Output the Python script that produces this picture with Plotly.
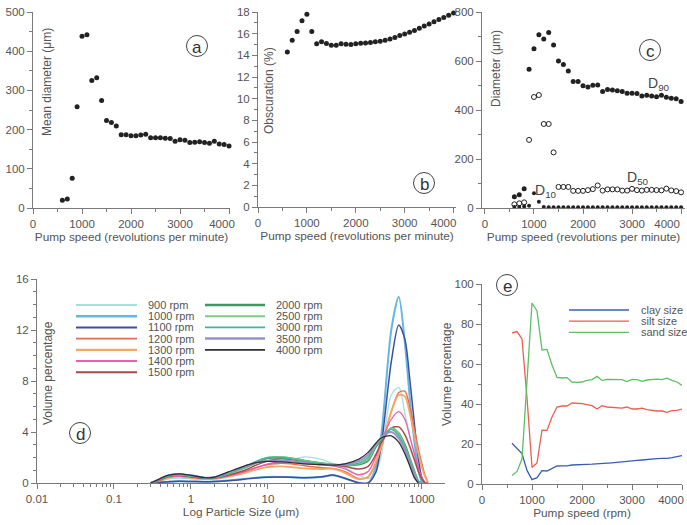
import plotly.graph_objects as go

W, H = 687, 525

# ---------------- data ----------------
rpm = [600, 700, 800, 900, 1000, 1100, 1200, 1300, 1400, 1500, 1600, 1700, 1800,
       1900, 2000, 2100, 2200, 2300, 2400, 2500, 2600, 2700, 2800, 2900, 3000,
       3100, 3200, 3300, 3400, 3500, 3600, 3700, 3800, 3900, 4000]

mean_diameter = [20, 23, 76, 258, 438, 442, 325, 332, 274, 223, 218, 209, 187,
                 187, 184, 184, 186, 188, 179, 179, 179, 178, 177, 170, 174,
                 173, 167, 168, 169, 167, 165, 170, 163, 162, 158]

obscuration = [14.3, 15.4, 16.2, 17.2, 17.8, 16.2, 15.06, 15.25, 15.1, 14.94,
               14.94, 15.06, 15.03, 15.0, 15.06, 15.12, 15.15, 15.18, 15.25,
               15.3, 15.4, 15.5, 15.64, 15.83, 15.98, 16.13, 16.3, 16.5, 16.7,
               16.9, 17.1, 17.3, 17.5, 17.7, 17.9]

d90 = [46, 54, 79, 566, 650, 707, 690, 716, 665, 600, 586, 559, 516, 516, 499,
       494, 501, 502, 475, 484, 482, 479, 475, 468, 468, 467, 457, 460, 457,
       454, 460, 452, 448, 446, 435]
d50 = [15, 19, 23, 278, 453, 461, 343, 343, 227, 86, 86, 86, 70, 70, 70, 73, 77,
       92, 71, 76, 76, 76, 71, 71, 78, 73, 71, 74, 74, 73, 72, 79, 72, 69, 64]
d10 = [4, 4, 6, 9, 60, 25, 4, 3, 3, 3, 3, 3, 3, 3, 3, 3, 3, 3, 3, 3, 3, 3, 3, 3,
       3, 3, 3, 3, 3, 3, 3, 3, 3, 3, 3]

size_um = [0.3, 0.4, 0.5, 0.7, 1, 1.5, 2, 3, 5, 7, 10, 15, 20, 30, 50, 70, 100,
           150, 200, 250, 300, 400, 500, 600, 700, 800, 900, 1000, 1100, 1200]

vol_900 = [0, 0.15, 0.3, 0.38, 0.32, 0.28, 0.3, 0.45, 0.75, 1.05, 1.3, 1.55, 1.8,
           2.05, 1.85, 1.5, 1.2, 0.6, 0.35, 0.8, 2.3, 6.9, 7.5, 5.5, 3.6, 2.1,
           1.0, 0.3, 0, 0]
vol_1000 = [0, 0.05, 0.1, 0.13, 0.12, 0.1, 0.12, 0.2, 0.33, 0.42, 0.48, 0.48,
            0.45, 0.42, 0.48, 0.6, 0.35, 0.02, 0, 1.2, 4.0, 12.0, 14.6, 11.0,
            6.5, 3.2, 1.0, 0.1, 0, 0]
vol_1100 = [0, 0.05, 0.1, 0.13, 0.12, 0.1, 0.12, 0.18, 0.3, 0.4, 0.45, 0.47,
            0.45, 0.42, 0.5, 0.62, 0.38, 0.02, 0, 0.8, 3.2, 9.5, 12.4, 11.3, 8.0,
            4.6, 1.9, 0.4, 0, 0]
vol_1200 = [0, 0.22, 0.42, 0.52, 0.42, 0.33, 0.35, 0.55, 0.9, 1.2, 1.45, 1.55,
            1.5, 1.35, 1.2, 1.15, 0.9, 0.35, 0.45, 1.5, 2.9, 5.6, 7.1, 7.2, 5.9,
            4.2, 2.7, 1.5, 0.6, 0.05]
vol_1300 = [0, 0.2, 0.4, 0.5, 0.4, 0.32, 0.33, 0.5, 0.8, 1.05, 1.25, 1.3, 1.25,
            1.15, 1.1, 1.1, 0.8, 0.3, 0.5, 1.6, 3.0, 5.6, 6.9, 6.8, 5.4, 3.7,
            2.3, 1.2, 0.5, 0]
vol_1400 = [0, 0.25, 0.45, 0.55, 0.45, 0.35, 0.37, 0.55, 0.9, 1.2, 1.5, 1.7, 1.7,
            1.6, 1.45, 1.35, 1.1, 0.65, 0.9, 2.0, 3.3, 5.0, 5.6, 5.0, 3.6, 2.3,
            1.2, 0.45, 0.05, 0]
vol_1500 = [0, 0.25, 0.5, 0.6, 0.5, 0.38, 0.4, 0.6, 1.0, 1.4, 1.75, 1.9, 1.85,
            1.7, 1.5, 1.4, 1.3, 1.1, 1.3, 2.2, 3.2, 4.3, 4.4, 3.8, 2.8, 1.8, 0.9,
            0.3, 0, 0]
vol_2000 = [0, 0.3, 0.55, 0.65, 0.55, 0.4, 0.42, 0.7, 1.2, 1.6, 1.95, 2.0, 1.95,
            1.75, 1.55, 1.45, 1.4, 1.45, 1.75, 2.8, 3.4, 4.3, 3.9, 3.0, 1.9, 0.9,
            0.15, 0, 0, 0]
vol_2500 = [0, 0.3, 0.55, 0.65, 0.55, 0.4, 0.42, 0.7, 1.2, 1.65, 2.0, 2.05,
            1.95, 1.75, 1.55, 1.45, 1.4, 1.5, 1.85, 2.9, 3.5, 4.3, 3.9, 2.9, 1.8,
            0.85, 0.12, 0, 0, 0]
vol_3000 = [0, 0.3, 0.55, 0.65, 0.55, 0.4, 0.42, 0.72, 1.25, 1.7, 2.0, 2.0, 1.9,
            1.7, 1.5, 1.42, 1.4, 1.55, 2.0, 3.0, 3.6, 4.2, 3.7, 2.8, 1.7, 0.75,
            0.1, 0, 0, 0]
vol_3500 = [0, 0.35, 0.6, 0.7, 0.6, 0.42, 0.45, 0.8, 1.3, 1.6, 1.75, 1.75, 1.7,
            1.55, 1.45, 1.4, 1.45, 1.7, 2.2, 3.0, 3.6, 4.0, 3.5, 2.6, 1.5, 0.6,
            0.05, 0, 0, 0]
vol_4000 = [0, 0.35, 0.6, 0.72, 0.6, 0.42, 0.45, 0.85, 1.35, 1.6, 1.7, 1.65, 1.6,
            1.5, 1.45, 1.4, 1.5, 1.85, 2.4, 3.1, 3.55, 3.7, 3.2, 2.3, 1.3, 0.4,
            0, 0, 0, 0]

curve_names = ["900 rpm", "1000 rpm", "1100 rpm", "1200 rpm", "1300 rpm",
               "1400 rpm", "1500 rpm", "2000 rpm", "2500 rpm", "3000 rpm",
               "3500 rpm", "4000 rpm"]
curve_values = [vol_900, vol_1000, vol_1100, vol_1200, vol_1300, vol_1400,
                vol_1500, vol_2000, vol_2500, vol_3000, vol_3500, vol_4000]

clay = [20.4, 17.7, 15.2, 6.8, 2.2, 3.2, 6.7, 6.5, 7.7, 9.0, 9.1, 9.1, 9.5, 9.7,
        9.7, 9.8, 9.9, 10.0, 10.3, 10.5, 10.6, 10.8, 11.1, 11.5, 11.7, 11.8,
        12.0, 12.3, 12.5, 12.7, 12.8, 12.8, 13.2, 13.6, 14.2]
silt = [75.5, 76.2, 72.5, 43, 8.3, 10.5, 26.9, 26.8, 33.5, 38.5, 39, 39, 40.5,
        40.5, 40.2, 39.7, 39.2, 37.5, 39.2, 38.5, 38.3, 38, 37.9, 38.5, 37.5,
        37.5, 37.9, 37.2, 36.7, 36.5, 36.5, 35.8, 36.7, 36.8, 37.4]
sand = [4.3, 6.3, 12.5, 50, 90.5, 86.5, 67, 67.3, 59.5, 53.3, 53, 53.2, 51,
        50.8, 51, 51.8, 52.2, 53.8, 51.8, 52.3, 52.3, 52.3, 52.2, 51.2, 52.3,
        52.2, 51.3, 52, 52.3, 52.4, 52.2, 52.9, 51.8, 51, 49.3]
fraction_names = ["clay size", "silt size", "sand size"]

speed_ticks = [0, 1000, 2000, 3000, 4000]
speed_tick_text = ["0", "1000", "2000", "3000", "4000"]
log_tick_vals = [0.01, 0.1, 1, 10, 100, 1000]
log_tick_text = ["0.01", "0.1", "1", "10", "100", "1000"]

# ---------------- styles ----------------
FONT = "Arial, Liberation Sans, Helvetica, sans-serif"
TICKFONT = "Liberation Sans Narrow, Arial Narrow, Arial, sans-serif"
TXT = "#555555"
AX = "#7a7a7a"
curve_colors = ["#a6dfdc", "#62b8e6", "#3e4f9c", "#e86a52", "#f6a763",
                "#ee5cb0", "#a84a4c", "#3f9861", "#7ccc86", "#3fb5a0",
                "#9694c6", "#2e2e38"]
curve_widths = [1.3, 2.0, 1.5, 1.4, 1.8, 1.3, 1.5, 2.0, 1.5, 1.3, 2.0, 1.3]
frac_colors = ["#3a5fb0", "#ec5f4e", "#5cc066"]
TICKF = dict(size=11.5, color=TXT, family=TICKFONT)


def px(x):
    return x / W


def py(y):
    return 1 - y / H


def trim(vals):
    last = max(i for i, v in enumerate(vals) if v > 0)
    return [v if i <= last + 1 else None for i, v in enumerate(vals)]


fig = go.Figure()
dot = dict(size=5, color="#222222")

fig.add_trace(go.Scatter(x=rpm, y=mean_diameter, mode="markers", marker=dot,
                         xaxis="x", yaxis="y", name="Mean diameter",
                         cliponaxis=False))
fig.add_trace(go.Scatter(x=rpm, y=obscuration, mode="markers", marker=dot,
                         xaxis="x2", yaxis="y2", name="Obscuration",
                         cliponaxis=False))
fig.add_trace(go.Scatter(x=rpm, y=d90, mode="markers", marker=dot,
                         xaxis="x3", yaxis="y3", name="D90", cliponaxis=False))
fig.add_trace(go.Scatter(x=rpm, y=d50, mode="markers",
                         marker=dict(size=5, symbol="circle-open",
                                     color="#222222", line=dict(width=1)),
                         xaxis="x3", yaxis="y3", name="D50", cliponaxis=False))
fig.add_trace(go.Scatter(x=rpm, y=d10, mode="markers",
                         marker=dict(size=4, color="#222222"),
                         xaxis="x3", yaxis="y3", name="D10", cliponaxis=False))

for name, vals, col, wd in zip(curve_names, curve_values, curve_colors,
                               curve_widths):
    fig.add_trace(go.Scatter(x=size_um, y=trim(vals), mode="lines",
                             line=dict(color=col, width=wd, shape="spline",
                                       smoothing=0.8),
                             xaxis="x4", yaxis="y4", name=name))

for name, vals, col in zip(fraction_names, [clay, silt, sand], frac_colors):
    fig.add_trace(go.Scatter(x=rpm, y=vals, mode="lines",
                             line=dict(color=col, width=1.3),
                             xaxis="x5", yaxis="y5", name=name))

# empty carriers so the overlay label axes get drawn
for xa, ya in [("x6", "y"), ("x7", "y2"), ("x8", "y3"), ("x9", "y5")]:
    fig.add_trace(go.Scatter(x=[], y=[], mode="markers", xaxis=xa, yaxis=ya,
                             hoverinfo="skip", name="axis label carrier"))


def axis(domain, rng, dtick, mdtick, title=None, anchor=None, **kw):
    d = dict(domain=domain, range=rng, dtick=dtick, showline=True,
             linecolor=AX, linewidth=1, ticks="outside", ticklen=5,
             tickcolor=AX, tickwidth=1, showgrid=False, zeroline=False,
             ticklabeloverflow="allow", tickfont=TICKF,
             minor=dict(ticks="outside", ticklen=3, tickcolor=AX,
                        dtick=mdtick, showgrid=False),
             anchor=anchor)
    if title:
        d["title"] = dict(text=title, font=dict(size=11.8, color=TXT,
                                                family=FONT), standoff=2)
    d.update(kw)
    return d


def last_label_axis(over, anchor, domain, rng, shift):
    # carries only the final speed label, nudged inward like the source figure
    return dict(overlaying=over, anchor=anchor, domain=domain, range=rng,
                tickvals=speed_ticks[-1:], ticktext=speed_tick_text[-1:],
                ticks="outside", ticklen=5, tickwidth=1,
                tickcolor="rgba(0,0,0,0)", showline=False, showgrid=False,
                zeroline=False, ticklabelshift=shift,
                ticklabeloverflow="allow", tickfont=TICKF, side="bottom")


pump_title = "Pump speed (revolutions per minute)"
no_last = speed_tick_text[:-1] + [""]
fig.update_layout(
    width=W, height=H, margin=dict(l=0, r=0, t=0, b=0, autoexpand=False),
    paper_bgcolor="white", plot_bgcolor="white", showlegend=False,
    font=dict(family=FONT, color=TXT),
    xaxis=axis([px(33), px(230)], [0, 4020], None, 500, pump_title, "y",
               tickvals=speed_ticks, ticktext=no_last),
    yaxis=axis([py(208), py(12)], [0, 500], 100, 50, None, "x"),
    xaxis2=axis([px(258), px(456)], [0, 4050], None, 500, pump_title, "y2",
                tickvals=speed_ticks, ticktext=no_last),
    yaxis2=axis([py(207), py(12)], [0, 18], 2, 1, None, "x2"),
    xaxis3=axis([px(482), px(685)], [-60, 4080], None, 500, pump_title, "y3",
                tickvals=speed_ticks, ticktext=no_last),
    yaxis3=axis([py(208), py(12)], [0, 800], 200, 100, None, "x3"),
    xaxis4=axis([px(37), px(445)], [-2, 3.3], None, None,
                "Log Particle Size (\u03bcm)", "y4", type="log",
                tickvals=log_tick_vals, ticktext=log_tick_text),
    yaxis4=axis([py(483), py(279)], [0, 16], 4, 1, None, "x4"),
    xaxis5=axis([px(482), px(682)], [0, 4000], None, 500, "Pump speed (rpm)",
                "y5", tickvals=speed_ticks, ticktext=no_last),
    yaxis5=axis([py(484), py(284)], [0, 100], 20, 10, None, "x5"),
    xaxis6=last_label_axis("x", "y", [px(33), px(230)], [0, 4020], -7),
    xaxis7=last_label_axis("x2", "y2", [px(258), px(456)], [0, 4050], -10),
    xaxis8=last_label_axis("x3", "y3", [px(482), px(685)], [-60, 4080], -14),
    xaxis9=last_label_axis("x5", "y5", [px(482), px(682)], [0, 4000], -11),
)
# log minor ticks
minor_log = [m * 10 ** e for e in range(-2, 4) for m in range(2, 10)]
fig.layout.xaxis4.minor = dict(ticks="outside", ticklen=3, tickcolor=AX,
                               tickvals=minor_log, showgrid=False)

annotations = []
shapes = []


def ytitle(text, x, y):
    annotations.append(dict(text=text, x=px(x), y=py(y), xref="paper",
                            yref="paper", textangle=-90, showarrow=False,
                            xanchor="center", yanchor="middle",
                            font=dict(size=12, color=TXT, family=FONT)))


ytitle("Mean diameter (\u03bcm)", 47, 82)
ytitle("Obscuration (%)", 269, 91)
ytitle("Diameter (\u03bcm)", 496, 69)
ytitle("Volume percentage", 48, 373)
ytitle("Volume percentage", 447, 374)


def letter(ch, cx, cy, r=10.5):
    shapes.append(dict(type="circle", xref="paper", yref="paper",
                       x0=px(cx - r), x1=px(cx + r), y0=py(cy + r),
                       y1=py(cy - r), line=dict(color="#444", width=1)))
    annotations.append(dict(text=ch, x=px(cx), y=py(cy + 1), xref="paper",
                            yref="paper", showarrow=False, xanchor="center",
                            yanchor="middle",
                            font=dict(size=17, color="#333", family=FONT)))


letter("a", 197, 46)
letter("b", 424, 183)
letter("c", 650, 50)
letter("d", 80, 433)
letter("e", 507, 285)

# D labels in panel c
for txt, xv, yv in [("D<sub>90</sub>", 3550, 505), ("D<sub>50</sub>", 3120, 122),
                    ("D<sub>10</sub>", 1250, 70)]:
    annotations.append(dict(text=txt, x=xv, y=yv, xref="x3", yref="y3",
                            showarrow=False, xanchor="center", yanchor="middle",
                            font=dict(size=14, color="#444", family=FONT)))

# legend panel d (two columns)
for i, (name, col, wd) in enumerate(zip(curve_names, curve_colors,
                                        curve_widths)):
    if i < 7:
        x0, x1, xt, yy = 76, 137, 146, 305 + i * 11.2
    else:
        x0, x1, xt, yy = 205, 265, 274, 305 + (i - 7) * 11.2
    shapes.append(dict(type="line", xref="paper", yref="paper", x0=px(x0),
                       x1=px(x1), y0=py(yy), y1=py(yy),
                       line=dict(color=col, width=wd + 0.5)))
    annotations.append(dict(text=name, x=px(xt), y=py(yy), xref="paper",
                            yref="paper", showarrow=False, xanchor="left",
                            yanchor="middle",
                            font=dict(size=11, color=TXT, family=FONT)))

# legend panel e
for i, (name, col) in enumerate(zip(fraction_names, frac_colors)):
    yy = 310 + i * 11.2
    shapes.append(dict(type="line", xref="paper", yref="paper", x0=px(569),
                       x1=px(629), y0=py(yy), y1=py(yy),
                       line=dict(color=col, width=1.3)))
    annotations.append(dict(text=name, x=px(639), y=py(yy), xref="paper",
                            yref="paper", showarrow=False, xanchor="left",
                            yanchor="middle",
                            font=dict(size=11, color=TXT, family=FONT)))

fig.update_layout(annotations=annotations, shapes=shapes)
fig.write_html("out.html", config={"displayModeBar": False},
               post_script="document.body.style.margin='0px';"
                           "document.body.style.overflow='hidden';")
